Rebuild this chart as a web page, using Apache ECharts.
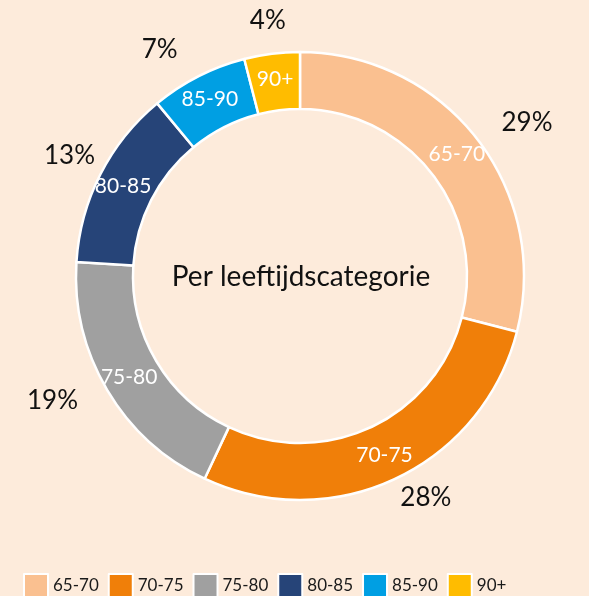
<!DOCTYPE html>
<html>
<head>
<meta charset="utf-8">
<script src="https://cdn.jsdelivr.net/npm/echarts@6/dist/echarts.min.js"></script>
<style>
html,body{margin:0;padding:0;background:#FDEBDB;}
#chart{width:589px;height:596px;}
</style>
</head>
<body>
<div id="chart"></div>
<script>
var categories = ['65-70', '70-75', '75-80', '80-85', '85-90', '90+'];
var values = [29, 28, 19, 13, 7, 4];
var colors = ['#FAC090', '#F07F09', '#A0A0A0', '#264478', '#009FE3', '#FFBC00'];
var centerTitle = 'Per leeftijdscategorie';
// per-label outside placement tuning (label line length, distance to line)
var outerLineLen = [26, 21, 20, 42, 30, 33];
var outerDist = [4, -4, 12, -32, 7, -18];

var FONT = 'Lato';
var chart = echarts.init(document.getElementById('chart'));

var ringData = categories.map(function (c, i) {
  return { name: c, value: values[i], itemStyle: { color: colors[i] } };
});
var labelData = categories.map(function (c, i) {
  return {
    name: c, value: values[i],
    labelLine: { length: outerLineLen[i], length2: 0 },
    label: { distanceToLabelLine: outerDist[i] }
  };
});

chart.setOption({
  backgroundColor: '#FDEBDB',
  animation: false,
  legend: {
    data: categories,
    left: 23,
    top: 573,
    padding: 0,
    icon: 'rect',
    itemWidth: 24,
    itemHeight: 24,
    itemGap: 9,
    textStyle: { fontFamily: FONT, fontSize: 17, color: '#1a1a1a' }
  },
  graphic: [{
    type: 'text',
    x: 301,
    y: 277,
    style: { text: centerTitle, fontFamily: FONT, fontSize: 28, fill: '#111', align: 'center', verticalAlign: 'middle' }
  }],
  series: [
    {
      type: 'pie',
      center: [300, 276],
      radius: [167, 224],
      startAngle: 90,
      clockwise: true,
      avoidLabelOverlap: false,
      silent: true,
      itemStyle: { borderColor: '#FFFFFF', borderWidth: 2.5 },
      label: {
        show: true, position: 'inside', formatter: '{b}',
        color: '#FFFFFF', fontFamily: FONT, fontSize: 21
      },
      labelLine: { show: false },
      data: ringData
    },
    {
      type: 'pie',
      center: [300, 276],
      radius: [167, 224],
      startAngle: 90,
      clockwise: true,
      avoidLabelOverlap: false,
      silent: true,
      legendHoverLink: false,
      itemStyle: { color: 'rgba(0,0,0,0)' },
      label: {
        show: true, position: 'outside', formatter: '{c}%',
        color: '#111', fontFamily: FONT, fontSize: 26
      },
      labelLine: { show: false },
      data: labelData
    }
  ]
});
</script>
</body>
</html>
